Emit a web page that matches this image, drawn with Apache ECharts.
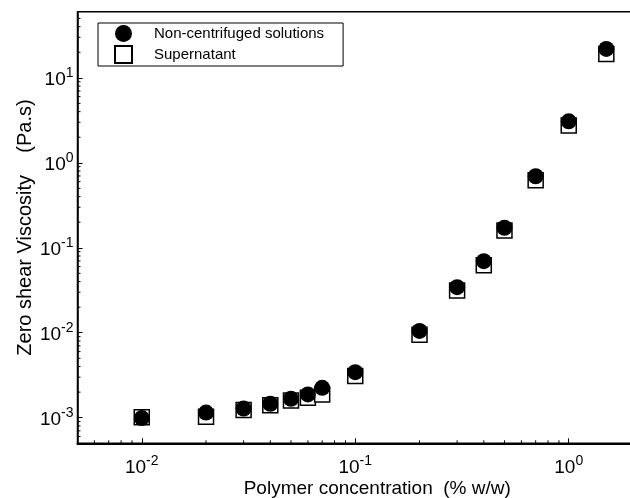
<!DOCTYPE html>
<html>
<head>
<meta charset="utf-8">
<script src="https://cdn.jsdelivr.net/npm/echarts@6/dist/echarts.min.js"></script>
<style>
  html, body { margin: 0; padding: 0; background: #fff; }
  #main { width: 630px; height: 498px; }
</style>
</head>
<body>
<div id="main"></div>
<script>
// polymer concentration (% w/w)
var concentration = [0.01, 0.02, 0.03, 0.04, 0.05, 0.06, 0.07, 0.1, 0.2, 0.3, 0.4, 0.5, 0.7, 1.0, 1.5];
// zero shear viscosity (Pa.s)
var viscosityNonCentrifuged = [0.00099, 0.00115, 0.00128, 0.00146, 0.00167, 0.00188, 0.00225, 0.00344, 0.0105, 0.0344, 0.0696, 0.172, 0.695, 3.08, 21.9];
var viscositySupernatant = [0.00101, 0.00103, 0.00123, 0.00140, 0.00160, 0.00172, 0.00188, 0.00309, 0.0095, 0.0315, 0.0624, 0.160, 0.624, 2.75, 19.1];

var seriesNames = ['Non-centrifuged solutions', 'Supernatant'];
var xName = 'Polymer concentration  (% w/w)';
var yName = 'Zero shear Viscosity    (Pa.s)';

var X_MIN = 0.005, X_MAX = 2;
var Y_MIN = 0.0005, Y_MAX = 60;
var xDecades = [0.001, 0.01, 0.1, 1];
var yDecades = [0.0001, 0.001, 0.01, 0.1, 1, 10];
var minorSteps = [2, 3, 4, 5, 6, 7, 8, 9];

function minorTicks(decades, lo, hi) {
    var out = [];
    decades.forEach(function (d) {
        minorSteps.forEach(function (k) {
            var v = +(d * k).toPrecision(6);
            if (v > lo && v < hi) out.push(v);
        });
    });
    return out;
}
var xMinor = minorTicks(xDecades, X_MIN, X_MAX);
var yMinor = minorTicks(yDecades, Y_MIN, Y_MAX);

function pow10Label(v) {
    var e = Math.log10(v);
    var r = Math.round(e);
    if (Math.abs(e - r) > 1e-6) return '';
    return '{b|10}{s|' + r + '}';
}

var FONT = 'Liberation Sans, Arial';
var labelRich = {
    b: { fontSize: 19, lineHeight: 23, verticalAlign: 'bottom', color: '#000', fontFamily: FONT },
    s: { fontSize: 14, lineHeight: 14, verticalAlign: 'top', color: '#000', fontFamily: FONT }
};

var myChart = echarts.init(document.getElementById('main'), null, { renderer: 'canvas' });

option = {
    backgroundColor: '#fff',
    animation: false,
    textStyle: { fontFamily: FONT, color: '#000' },
    grid: {
        left: 77.5, top: 11.7, right: -3, bottom: 54.7,
        outerBoundsMode: 'none',
        containLabel: false,
        show: true, borderColor: '#000', borderWidth: 1.5, backgroundColor: 'transparent'
    },
    legend: {
        orient: 'vertical',
        left: 98, top: 23,
        padding: [2, 19, 2, 16],
        itemGap: 3,
        itemWidth: 17, itemHeight: 17,
        borderColor: '#000', borderWidth: 1,
        backgroundColor: '#fff',
        data: seriesNames,
        textStyle: { fontSize: 15, color: '#000', padding: [0, 0, 0, 17], fontFamily: FONT }
    },
    xAxis: {
        type: 'log', logBase: 10, min: X_MIN, max: X_MAX,
        name: xName, nameLocation: 'middle', nameGap: 36, nameMoveOverlap: false,
        nameTextStyle: { fontSize: 19, color: '#000', padding: [0, 0, 0, 44] },
        axisLine: { lineStyle: { color: '#000', width: 2 } },
        axisTick: { inside: true, length: 5, lineStyle: { color: '#000', width: 1 } },
        axisLabel: { margin: 11, formatter: pow10Label, rich: labelRich, showMinLabel: false, showMaxLabel: false },
        splitLine: { show: false }
    },
    yAxis: {
        type: 'log', logBase: 10, min: Y_MIN, max: Y_MAX,
        name: yName, nameLocation: 'middle', nameGap: 42, nameRotate: 90, nameMoveOverlap: false,
        nameTextStyle: { fontSize: 20, color: '#000' },
        axisLine: { lineStyle: { color: '#000', width: 1.5 } },
        axisTick: { inside: true, length: 5, lineStyle: { color: '#000', width: 1 } },
        axisLabel: { margin: 4, formatter: pow10Label, rich: labelRich, showMinLabel: false, showMaxLabel: false },
        splitLine: { show: false }
    },
    series: [{
        name: seriesNames[1],
        type: 'scatter',
        symbol: 'rect',
        symbolSize: 15,
        z: 3,
        itemStyle: { color: '#fff', borderColor: '#000', borderWidth: 1.5, opacity: 1 },
        data: concentration.map(function (c, i) { return [c, viscositySupernatant[i]]; })
    }, {
        name: seriesNames[0],
        type: 'scatter',
        symbol: 'circle',
        symbolSize: 16,
        z: 4,
        itemStyle: { color: '#000', opacity: 1 },
        data: concentration.map(function (c, i) { return [c, viscosityNonCentrifuged[i]]; })
    }, {
        // minor ticks on the bottom axis
        type: 'custom',
        silent: true,
        z: 5,
        clip: false,
        data: xMinor.map(function (v) { return [v, Y_MIN]; }),
        renderItem: function (params, api) {
            var p = api.coord([api.value(0), api.value(1)]);
            return { type: 'line', shape: { x1: p[0], y1: p[1], x2: p[0], y2: p[1] - 3 },
                     style: { stroke: '#000', lineWidth: 1 } };
        }
    }, {
        // minor ticks on the left axis
        type: 'custom',
        silent: true,
        z: 5,
        clip: false,
        data: yMinor.map(function (v) { return [X_MIN, v]; }),
        renderItem: function (params, api) {
            var p = api.coord([api.value(0), api.value(1)]);
            return { type: 'line', shape: { x1: p[0], y1: p[1], x2: p[0] + 3, y2: p[1] },
                     style: { stroke: '#000', lineWidth: 1 } };
        }
    }]
};
myChart.setOption(option);
</script>
</body>
</html>
